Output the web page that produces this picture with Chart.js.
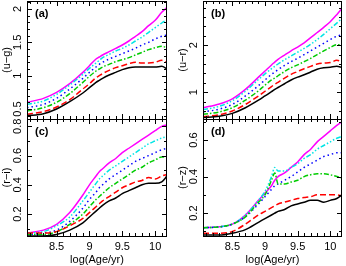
<!DOCTYPE html>
<html>
<head>
<meta charset="utf-8">
<script src="https://cdn.jsdelivr.net/npm/chart.js@4/dist/chart.umd.min.js"></script>
<style>
  body { margin: 0; background: #fff; }
  #wrap { position: relative; width: 346px; height: 266px; }
  canvas { position: absolute; left: 0; top: 0; }
</style>
</head>
<body>
<div id="wrap">
  <canvas id="pa" width="346" height="266"></canvas>
  <canvas id="pb" width="346" height="266"></canvas>
  <canvas id="pc" width="346" height="266"></canvas>
  <canvas id="pd" width="346" height="266"></canvas>
</div>
<script>
// log(Age/yr) sample points
const ages = [8.05, 8.3, 8.5, 8.7, 8.9, 9.0, 9.1, 9.15, 9.2, 9.3, 9.4, 9.5, 9.6, 9.7, 9.8, 9.9, 10.0, 10.1, 10.18];
const xTicks = [8.5, 9, 9.5, 10];

// (u-g)
const ugBlack   = [0.40, 0.43, 0.50, 0.61, 0.74, 0.82, 0.90, 0.93, 0.96, 1.01, 1.05, 1.09, 1.12, 1.13, 1.13, 1.13, 1.13, 1.14, 1.10];
const ugRed     = [0.42, 0.46, 0.53, 0.64, 0.80, 0.88, 0.97, 1.00, 1.03, 1.08, 1.12, 1.15, 1.18, 1.20, 1.19, 1.19, 1.20, 1.23, 1.20];
const ugGreen   = [0.47, 0.52, 0.60, 0.73, 0.90, 0.99, 1.07, 1.10, 1.13, 1.17, 1.21, 1.24, 1.27, 1.31, 1.35, 1.39, 1.42, 1.44, 1.42];
const ugBlue    = [0.52, 0.57, 0.66, 0.80, 0.96, 1.05, 1.13, 1.17, 1.20, 1.25, 1.29, 1.33, 1.37, 1.41, 1.46, 1.50, 1.55, 1.59, 1.61];
const ugCyan    = [0.57, 0.62, 0.72, 0.86, 1.02, 1.11, 1.19, 1.23, 1.27, 1.32, 1.37, 1.41, 1.46, 1.52, 1.58, 1.65, 1.72, 1.79, 1.84];
const ugMagenta = [0.60, 0.66, 0.75, 0.88, 1.05, 1.15, 1.25, 1.28, 1.31, 1.36, 1.41, 1.46, 1.52, 1.59, 1.66, 1.75, 1.83, 1.95, 2.02];

// (u-r)
const urBlack   = [0.46, 0.49, 0.55, 0.67, 0.83, 0.92, 1.01, 1.06, 1.10, 1.18, 1.26, 1.32, 1.37, 1.43, 1.49, 1.52, 1.53, 1.55, 1.53];
const urRed     = [0.48, 0.52, 0.60, 0.74, 0.92, 1.02, 1.12, 1.17, 1.21, 1.30, 1.38, 1.44, 1.50, 1.55, 1.60, 1.62, 1.63, 1.68, 1.65];
const urGreen   = [0.53, 0.58, 0.67, 0.83, 1.03, 1.15, 1.26, 1.30, 1.35, 1.44, 1.52, 1.58, 1.65, 1.72, 1.80, 1.88, 1.95, 2.01, 2.01];
const urBlue    = [0.58, 0.64, 0.74, 0.92, 1.14, 1.26, 1.38, 1.43, 1.48, 1.57, 1.65, 1.72, 1.80, 1.88, 1.96, 2.04, 2.12, 2.19, 2.22];
const urCyan    = [0.63, 0.70, 0.82, 1.02, 1.27, 1.39, 1.50, 1.55, 1.60, 1.69, 1.77, 1.85, 1.93, 2.02, 2.12, 2.23, 2.35, 2.47, 2.57];
const urMagenta = [0.67, 0.75, 0.86, 1.06, 1.32, 1.45, 1.58, 1.64, 1.70, 1.79, 1.88, 1.96, 2.05, 2.16, 2.27, 2.38, 2.50, 2.65, 2.78];

// (r-i)
const riBlack   = [0.05, 0.05, 0.06, 0.09, 0.14, 0.18, 0.22, 0.24, 0.26, 0.29, 0.31, 0.34, 0.36, 0.38, 0.40, 0.41, 0.41, 0.42, 0.46];
const riRed     = [0.07, 0.07, 0.08, 0.12, 0.17, 0.21, 0.25, 0.27, 0.29, 0.32, 0.35, 0.38, 0.40, 0.42, 0.43, 0.45, 0.44, 0.46, 0.47];
const riGreen   = [0.06, 0.06, 0.08, 0.13, 0.20, 0.25, 0.30, 0.32, 0.34, 0.38, 0.41, 0.44, 0.47, 0.50, 0.52, 0.55, 0.57, 0.59, 0.59];
const riBlue    = [0.06, 0.07, 0.09, 0.15, 0.24, 0.30, 0.35, 0.38, 0.40, 0.44, 0.47, 0.50, 0.53, 0.56, 0.58, 0.60, 0.62, 0.64, 0.65];
const riCyan    = [0.07, 0.08, 0.12, 0.18, 0.29, 0.35, 0.41, 0.44, 0.46, 0.50, 0.53, 0.56, 0.59, 0.62, 0.65, 0.68, 0.70, 0.72, 0.73];
const riMagenta = [0.07, 0.09, 0.13, 0.21, 0.33, 0.40, 0.46, 0.49, 0.51, 0.55, 0.58, 0.62, 0.65, 0.68, 0.71, 0.74, 0.77, 0.80, 0.81];

// (r-z)
const rzBlack   = [0.08, 0.08, 0.09, 0.11, 0.15, 0.17, 0.19, 0.20, 0.21, 0.22, 0.24, 0.25, 0.26, 0.27, 0.27, 0.26, 0.27, 0.28, 0.30];
const rzRed     = [0.09, 0.09, 0.10, 0.14, 0.19, 0.21, 0.23, 0.24, 0.25, 0.26, 0.27, 0.28, 0.285, 0.29, 0.30, 0.30, 0.30, 0.30, 0.295];
const rzGreen   = [0.12, 0.125, 0.14, 0.18, 0.26, 0.30, 0.38, 0.42, 0.36, 0.36, 0.37, 0.38, 0.40, 0.41, 0.415, 0.415, 0.41, 0.40, 0.39];
const rzBlue    = [0.12, 0.125, 0.14, 0.18, 0.25, 0.29, 0.33, 0.35, 0.36, 0.38, 0.40, 0.425, 0.45, 0.47, 0.49, 0.51, 0.52, 0.53, 0.53];
const rzCyan    = [0.12, 0.125, 0.14, 0.19, 0.27, 0.32, 0.40, 0.45, 0.43, 0.43, 0.45, 0.47, 0.50, 0.52, 0.55, 0.57, 0.59, 0.61, 0.62];
const rzMagenta = [0.12, 0.125, 0.14, 0.19, 0.27, 0.31, 0.35, 0.38, 0.40, 0.42, 0.45, 0.48, 0.52, 0.55, 0.59, 0.62, 0.65, 0.68, 0.70];

// line styles, black to magenta
const styles = [
  { color: '#000000', dash: [] },
  { color: '#ff0000', dash: [6, 3] },
  { color: '#00cc00', dash: [5, 2, 1.5, 2] },
  { color: '#0000ff', dash: [1.5, 3] },
  { color: '#00e5e5', dash: [5, 2, 1.5, 2, 1.5, 2, 1.5, 2] },
  { color: '#ff00ff', dash: [] }
];

const FONT = 'Liberation Sans, Arial, sans-serif';

// frame, inward ticks and all the text for one panel
const framePlugin = {
  id: 'frame',
  afterDraw(chart) {
    const p = chart.options.plugins.frame;
    const { ctx, chartArea: a, scales: { x, y } } = chart;
    ctx.save();
    ctx.strokeStyle = '#000';
    ctx.lineWidth = 1;
    ctx.strokeRect(a.left + 0.5, a.top + 0.5, a.right - a.left - 1, a.bottom - a.top);

    ctx.beginPath();
    for (let i = 81; i <= 101; i++) {
      const px = Math.round(x.getPixelForValue(i / 10)) + 0.5;
      const len = i % 5 === 0 ? 5 : 3;
      ctx.moveTo(px, a.bottom); ctx.lineTo(px, a.bottom - len);
      ctx.moveTo(px, a.top); ctx.lineTo(px, a.top + len);
    }
    const k0 = Math.ceil(y.min / p.minor - 1e-6), k1 = Math.floor(y.max / p.minor + 1e-6);
    for (let k = k0; k <= k1; k++) {
      const v = k * p.minor;
      const py = Math.round(y.getPixelForValue(v)) + 0.5;
      const major = Math.abs(v / p.major - Math.round(v / p.major)) < 1e-6;
      const len = major ? 5 : 3;
      ctx.moveTo(a.left, py); ctx.lineTo(a.left + len, py);
      ctx.moveTo(a.right, py); ctx.lineTo(a.right - len, py);
    }
    ctx.stroke();

    ctx.fillStyle = '#000';
    ctx.font = '11px ' + FONT;
    ctx.textAlign = 'center';
    ctx.textBaseline = 'middle';
    if (p.xLabels) {
      xTicks.forEach(v => ctx.fillText(String(v), x.getPixelForValue(v), a.bottom + 11));
      ctx.fillText('log(Age/yr)', (a.left + a.right) / 2, a.bottom + 24);
    }
    p.yTicks.forEach(v => {
      ctx.save();
      ctx.translate(a.left - 9, y.getPixelForValue(v));
      ctx.rotate(-Math.PI / 2);
      ctx.fillText(String(v), 0, 0);
      ctx.restore();
    });
    ctx.save();
    ctx.translate(a.left - 20, (a.top + a.bottom) / 2);
    ctx.rotate(-Math.PI / 2);
    ctx.fillText(p.title, 0, 0);
    ctx.restore();

    ctx.font = 'bold 11px ' + FONT;
    ctx.textAlign = 'left';
    ctx.fillText(p.tag, a.left + 8, a.top + 13);
    ctx.restore();
  }
};

function makePanel(id, series, box, yMin, yMax, frame) {
  const datasets = series.map((vals, i) => ({
    data: ages.map((a, j) => ({ x: a, y: vals[j] })),
    borderColor: styles[i].color,
    borderDash: styles[i].dash,
    borderWidth: 1.5,
    pointRadius: 0,
    fill: false,
    cubicInterpolationMode: 'monotone'
  }));
  new Chart(document.getElementById(id), {
    type: 'line',
    data: { datasets },
    options: {
      responsive: false,
      animation: false,
      layout: { padding: { left: box[0], top: box[1], right: 346 - box[2], bottom: 266 - box[3] } },
      scales: {
        x: { type: 'linear', min: 8.05, max: 10.18, display: false },
        y: { type: 'linear', min: yMin, max: yMax, display: false }
      },
      plugins: { legend: { display: false }, tooltip: { enabled: false }, frame }
    },
    plugins: [framePlugin]
  });
}

makePanel('pa', [ugBlack, ugRed, ugGreen, ugBlue, ugCyan, ugMagenta], [27, 1, 167, 119], 0.35, 2.12,
  { tag: '(a)', title: '(u\u2212g)', yTicks: [0.5, 1, 1.5, 2], minor: 0.1, major: 0.5, xLabels: false });
makePanel('pb', [urBlack, urRed, urGreen, urBlue, urCyan, urMagenta], [203, 1, 342, 119], 0.43, 2.94,
  { tag: '(b)', title: '(u\u2212r)', yTicks: [1, 2], minor: 0.2, major: 1, xLabels: false });
makePanel('pc', [riBlack, riRed, riGreen, riBlue, riCyan, riMagenta], [27, 119, 167, 236], 0.05, 0.85,
  { tag: '(c)', title: '(r\u2212i)', yTicks: [0.2, 0.4, 0.6, 0.8], minor: 0.1, major: 0.2, xLabels: true });
makePanel('pd', [rzBlack, rzRed, rzGreen, rzBlue, rzCyan, rzMagenta], [203, 119, 342, 236], 0.075, 0.715,
  { tag: '(d)', title: '(r\u2212z)', yTicks: [0.2, 0.4, 0.6], minor: 0.1, major: 0.2, xLabels: true });
</script>
</body>
</html>
